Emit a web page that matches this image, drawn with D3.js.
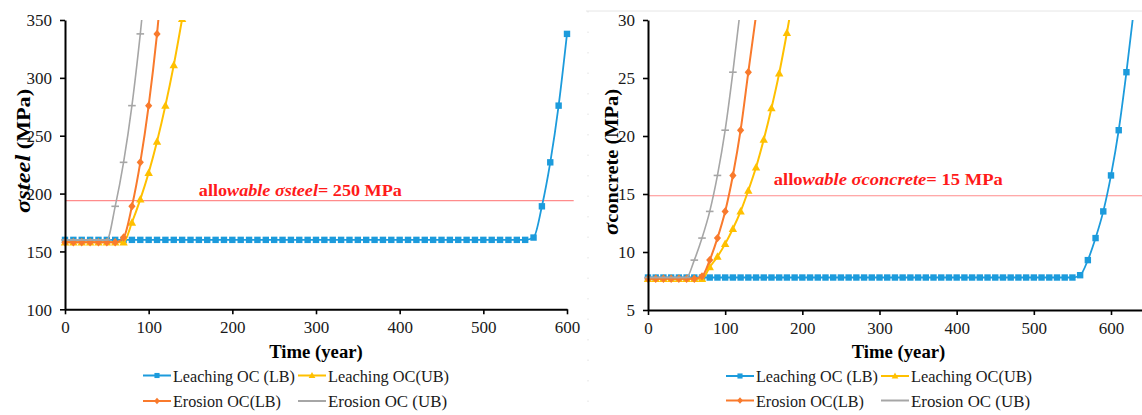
<!DOCTYPE html>
<html>
<head>
<meta charset="utf-8">
<script src="https://cdn.jsdelivr.net/npm/d3@7"></script>
<style>
  html, body { margin: 0; padding: 0; background: #ffffff; }
  svg { display: block; }
</style>
</head>
<body>
<svg id="chart" width="1142" height="415"></svg>
<script>
// ---------------- DATA ----------------
const years = [0,10,20,30,40,50,60,70,80,90,100,110,120,130,140,150,160,170,180,190,
  200,210,220,230,240,250,260,270,280,290,300,310,320,330,340,350,360,370,380,390,
  400,410,420,430,440,450,460,470,480,490,500,510,520,530,540,550,560,570,580,590,
  600,610,620,630];

// sigma steel (MPa)
const steelLeachingLB = [160,160,160,160,160,160,160,160,160,160,160,160,160,160,160,160,160,160,160,160,
  160,160,160,160,160,160,160,160,160,160,160,160,160,160,160,160,160,160,160,160,
  160,160,160,160,160,160,160,160,160,160,160,160,160,160,160,160,162,189,227,276,338];
const steelLeachingUB = [158,158,158,158,158,158,158,158,175,195,218,245,276,311,351];
const steelErosionLB  = [158,158,158,158,158,158,158,162,189,227,276,338,415];
const steelErosionUB  = [160,160,160,160,160,160,189,227,276,338,410];

// sigma concrete (MPa)
const concreteLeachingLB = [7.8,7.8,7.8,7.8,7.8,7.8,7.8,7.8,7.8,7.8,7.8,7.8,7.8,7.8,7.8,7.8,7.8,7.8,7.8,7.8,
  7.8,7.8,7.8,7.8,7.8,7.8,7.8,7.8,7.8,7.8,7.8,7.8,7.8,7.8,7.8,7.8,7.8,7.8,7.8,7.8,
  7.8,7.8,7.8,7.8,7.8,7.8,7.8,7.8,7.8,7.8,7.8,7.8,7.8,7.8,7.8,7.8,8.0,9.3,11.2,13.5,
  16.6,20.5,25.5,31.1];
const concreteLeachingUB = [7.7,7.7,7.7,7.7,7.7,7.7,7.7,7.7,8.7,9.6,10.7,12.0,13.5,15.3,17.3,19.7,22.4,25.4,28.9,32.7];
const concreteErosionLB  = [7.7,7.7,7.7,7.7,7.7,7.7,7.7,7.9,9.3,11.2,13.5,16.6,20.5,25.5,30.4];
const concreteErosionUB  = [7.8,7.8,7.8,7.8,7.8,7.8,9.3,11.2,13.5,16.6,20.5,25.5,31.1];

const seriesNames = ["Leaching OC (LB)", "Leaching OC(UB)", "Erosion OC(LB)", "Erosion OC (UB)"];
const steelTicks = [100,150,200,250,300,350];
const concreteTicks = [5,10,15,20,25,30];
const timeTicks = [0,100,200,300,400,500,600];
const allowableValues = [193.9, 14.85];   // where the limit lines are drawn
const allowableLineEnd = [608, 650];      // years
const allowableLabelAt = [160, 163];      // years
const xTitle = "Time (year)";

// ---------------- STYLE ----------------
const colors = ["#1C9BDC", "#FFC000", "#F97A2C", "#A6A6A6"];
const markers = ["square", "triangle", "diamond", "dash"];
const lineWidths = [1.8, 2, 2, 1.6];
const serif = "'Liberation Serif', 'Times New Roman', serif";
const legendTextLengths = [122, 121, 108, 119];

const svg = d3.select("#chart");

const panels = [
  {
    id: "steel",
    series: [steelLeachingLB, steelLeachingUB, steelErosionLB, steelErosionUB],
    xDomain: [0, 600], xRange: [65, 567],
    yDomain: [100, 350], yRange: [309.3, 20],
    yTicks: steelTicks,
    allowable: allowableValues[0], allowEnd: allowableLineEnd[0], labelAt: allowableLabelAt[0],
    labelParts: [["allo", false], ["wable σsteel", true], ["= 250 MPa", false]],
    labelLen: 203, labelDy: -4.5,
    titleParts: [["σsteel", true], [" (MPa)", false]],
    titleX: 29.5, titleY: 151, titleLen: 124,
    legendRows: [375.5, 401]
  },
  {
    id: "concrete",
    series: [concreteLeachingLB, concreteLeachingUB, concreteErosionLB, concreteErosionUB],
    xDomain: [0, 650], xRange: [648, 648 + 650 * (463 / 600)],
    yDomain: [5, 30], yRange: [310, 20],
    yTicks: concreteTicks,
    allowable: allowableValues[1], allowEnd: allowableLineEnd[1], labelAt: allowableLabelAt[1],
    labelParts: [["allo", false], ["wable σconcrete", true], ["= 15 MPa", false]],
    labelLen: 229, labelDy: -10.5,
    titleParts: [["σ", true], ["concrete (MPa)", false]],
    titleX: 617.5, titleY: 162, titleLen: 146,
    legendRows: [376, 400.5]
  }
];

// faint frame of right panel
svg.append("line").attr("x1", 586).attr("x2", 1142).attr("y1", 11).attr("y2", 11)
  .attr("stroke", "#e6e6e6").attr("stroke-width", 1);
svg.append("line").attr("x1", 588).attr("x2", 588).attr("y1", 11).attr("y2", 415)
  .attr("stroke", "#e2e2e2").attr("stroke-width", 1).attr("stroke-dasharray", "1.5,19");

function drawMarker(g, type, cx, cy, color, s) {
  s = s || 1;
  if (type === "square") {
    g.append("rect").attr("x", cx - 3.2 * s).attr("y", cy - 3.2 * s)
      .attr("width", 6.4 * s).attr("height", 6.4 * s).attr("fill", color);
  } else if (type === "triangle") {
    g.append("path").attr("d", `M${cx},${cy - 4.3 * s}L${cx + 4.2 * s},${cy + 3.2 * s}L${cx - 4.2 * s},${cy + 3.2 * s}Z`)
      .attr("fill", color);
  } else if (type === "diamond") {
    g.append("path").attr("d", `M${cx},${cy - 4.2 * s}L${cx + 3.6 * s},${cy}L${cx},${cy + 4.2 * s}L${cx - 3.6 * s},${cy}Z`)
      .attr("fill", color);
  } else if (type === "dash") {
    g.append("rect").attr("x", cx - 3.8 * s).attr("y", cy - 0.8)
      .attr("width", 7.6 * s).attr("height", 1.6).attr("fill", color);
  }
}

panels.forEach((p, pi) => {
  const x = d3.scaleLinear().domain(p.xDomain).range(p.xRange);
  const y = d3.scaleLinear().domain(p.yDomain).range(p.yRange);
  const g = svg.append("g");

  const clipId = "clip-" + p.id;
  svg.append("clipPath").attr("id", clipId).append("rect")
    .attr("x", p.xRange[0] - 6).attr("y", p.yRange[1])
    .attr("width", p.xRange[1] - p.xRange[0] + 12).attr("height", p.yRange[0] - p.yRange[1] + 6);

  // allowable line
  g.append("line")
    .attr("x1", x(0)).attr("x2", x(p.allowEnd))
    .attr("y1", y(p.allowable)).attr("y2", y(p.allowable))
    .attr("stroke", "#FF8C8C").attr("stroke-width", 1.2);

  // allowable label
  const lab = g.append("text")
    .attr("x", x(p.labelAt)).attr("y", y(p.allowable) + p.labelDy)
    .attr("fill", "#FF1A1A").attr("font-family", serif)
    .attr("font-size", 16.5).attr("font-weight", "bold")
    .attr("textLength", p.labelLen).attr("lengthAdjust", "spacingAndGlyphs");
  p.labelParts.forEach(([t, it]) => {
    lab.append("tspan").text(t).attr("font-style", it ? "italic" : "normal");
  });

  // series
  const plot = g.append("g").attr("clip-path", `url(#${clipId})`);
  const line = d3.line()
    .x((d, i) => x(years[i]))
    .y(d => y(d))
    .curve(d3.curveMonotoneX);

  p.series.forEach((vals, si) => {
    plot.append("path").datum(vals)
      .attr("d", line)
      .attr("fill", "none")
      .attr("stroke", colors[si])
      .attr("stroke-width", lineWidths[si])
      .attr("stroke-linejoin", "round");
    const mg = plot.append("g");
    vals.forEach((v, i) => drawMarker(mg, markers[si], x(years[i]), y(v), colors[si]));
  });

  // axes
  const yAxis = d3.axisLeft(y).tickValues(p.yTicks).tickSize(5).tickSizeOuter(0).tickPadding(8);
  const xAxis = d3.axisBottom(x).tickValues(timeTicks).tickSize(5).tickSizeOuter(0).tickPadding(7);

  const ya = g.append("g").attr("transform", `translate(${p.xRange[0]},0)`).call(yAxis);
  const xa = g.append("g").attr("transform", `translate(0,${p.yRange[0]})`).call(xAxis);
  [ya, xa].forEach(a => {
    a.select(".domain").attr("stroke", "#000").attr("stroke-width", 2);
    a.selectAll(".tick line").attr("stroke", "#000").attr("stroke-width", 1.6);
    a.selectAll(".tick text").attr("font-family", serif).attr("font-size", 17).attr("fill", "#1a1a1a");
  });
  ya.selectAll(".tick text").attr("dy", "0.34em");

  // y title
  const yt = g.append("text")
    .attr("transform", `translate(${p.titleX},${p.titleY}) rotate(-90)`)
    .attr("text-anchor", "middle")
    .attr("font-family", serif).attr("font-size", 18).attr("font-weight", "bold").attr("fill", "#000")
    .attr("textLength", p.titleLen).attr("lengthAdjust", "spacingAndGlyphs");
  p.titleParts.forEach(([t, it]) => {
    yt.append("tspan").text(t).attr("font-style", it ? "italic" : "normal")
      .attr("font-size", it ? 20 : 18);
  });

  // x title
  g.append("text")
    .attr("x", (p.xRange[0] + (pi === 0 ? p.xRange[1] : 1149)) / 2)
    .attr("y", 358)
    .attr("text-anchor", "middle")
    .attr("font-family", serif).attr("font-size", 18.7).attr("font-weight", "bold").attr("fill", "#000")
    .text(xTitle);

  // legend
  const leg = g.append("g");
  const itemOffsets = [[78, 0], [233, 0], [78, 1], [233, 1]];
  seriesNames.forEach((name, si) => {
    const [ox, row] = itemOffsets[si];
    const lx = p.xRange[0] + ox;
    const ly = p.legendRows[row];
    leg.append("line").attr("x1", lx).attr("x2", lx + 28).attr("y1", ly).attr("y2", ly)
      .attr("stroke", colors[si]).attr("stroke-width", 2);
    if (markers[si] !== "dash") drawMarker(leg, markers[si], lx + 14, ly, colors[si], 0.8);
    leg.append("text").attr("x", lx + 30).attr("y", ly + 6)
      .attr("font-family", serif).attr("font-size", 17.5).attr("fill", "#1a1a1a")
      .attr("textLength", legendTextLengths[si]).attr("lengthAdjust", "spacingAndGlyphs")
      .text(name);
  });
});
</script>
</body>
</html>
